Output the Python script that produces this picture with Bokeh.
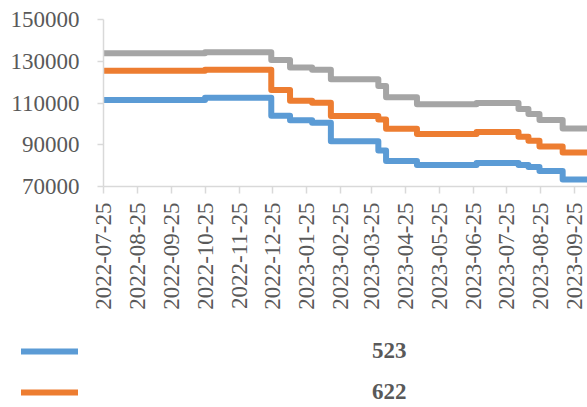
import math
from datetime import datetime, timedelta

import pandas as pd
from bokeh.plotting import figure
from bokeh.layouts import column
from bokeh.models import (FixedTicker, DatetimeTickFormatter, BasicTickFormatter,
                          Legend, LegendItem, Range1d)
from bokeh.embed import file_html
from bokeh.resources import INLINE

# ---------------- data ----------------
CHANGE_DATES = ["2022-07-25", "2022-10-25", "2022-12-24", "2023-01-10", "2023-01-30",
                "2023-02-16", "2023-03-31", "2023-04-07", "2023-05-05", "2023-06-28",
                "2023-08-05", "2023-08-14", "2023-08-24", "2023-09-14", "2023-10-08"]
S523 = [111450, 112550, 103900, 101750, 100550, 91650, 87300, 82250, 80350, 81300,
        80350, 79400, 77450, 73350, 73350]
S622 = [125400, 125900, 116250, 111100, 110150, 103750, 102050, 97650, 95100, 96100,
        93800, 91900, 89200, 86250, 86250]
S_GRAY = [133800, 134300, 130600, 127000, 125900, 121400, 118200, 112700, 109400, 110000,
          107100, 104700, 101800, 97800, 97800]
SERIES_NAMES = ["523", "622"]

X_TICK_LABELS = ["2022-07-25", "2022-08-25", "2022-09-25", "2022-10-25", "2022-11-25",
                 "2022-12-25", "2023-01-25", "2023-02-25", "2023-03-25", "2023-04-25",
                 "2023-05-25", "2023-06-25", "2023-07-25", "2023-08-25", "2023-09-25",
                 "2023-10-25"]
Y_TICKS = [70000, 90000, 110000, 130000, 150000]

# ---------------- styling ----------------
BLUE = "#5B9BD5"
ORANGE = "#ED7D31"
GRAY = "#A5A5A5"
AXIS_COLOR = "#D9D9D9"
TEXT_COLOR = "#595959"
FONT = "Liberation Serif"
LINE_KW = dict(mode="after", line_width=6, line_cap="round", line_join="round")

dates = pd.to_datetime(CHANGE_DATES)
x_start = datetime(2022, 7, 25)
x_end = x_start + timedelta(days=438.5)

# ---------------- main chart ----------------
p = figure(width=587, height=312, x_axis_type="datetime",
           output_backend="svg", toolbar_location=None,
           x_range=Range1d(x_start, x_end), y_range=Range1d(70000, 150000),
           min_border_left=103, min_border_right=0, min_border_top=19,
           min_border_bottom=126)
p.frame_align = False
p.outline_line_color = None
p.xgrid.visible = False
p.ygrid.visible = False

p.step(dates, S523, line_color=BLUE, **LINE_KW)
p.step(dates, S622, line_color=ORANGE, **LINE_KW)
p.step(dates, S_GRAY, line_color=GRAY, **LINE_KW)

yax = p.yaxis[0]
yax.ticker = FixedTicker(ticks=Y_TICKS)
yax.formatter = BasicTickFormatter(use_scientific=False)
yax.axis_line_color = AXIS_COLOR
yax.axis_line_width = 1.5
yax.major_tick_line_color = AXIS_COLOR
yax.major_tick_line_width = 1.5
yax.major_tick_out = 6
yax.major_tick_in = 0
yax.minor_tick_line_color = None
yax.major_label_standoff = 18
yax.major_label_text_font = FONT
yax.major_label_text_font_size = "23px"
yax.major_label_text_color = TEXT_COLOR

tick_ms = [pd.Timestamp(t).value // 10**6 for t in X_TICK_LABELS]
xax = p.xaxis[0]
xax.ticker = FixedTicker(ticks=tick_ms)
fmt = "%Y-%m-%d"
xax.formatter = DatetimeTickFormatter(microseconds=fmt, milliseconds=fmt, seconds=fmt,
                                      minsec=fmt, minutes=fmt, hourmin=fmt, hours=fmt,
                                      days=fmt, months=fmt, years=fmt)
xax.axis_line_color = AXIS_COLOR
xax.axis_line_width = 1.5
xax.major_tick_line_color = AXIS_COLOR
xax.major_tick_line_width = 1.5
xax.major_tick_out = 7
xax.major_tick_in = 0
xax.minor_tick_line_color = None
xax.major_label_orientation = math.pi / 2
xax.major_label_standoff = 9
xax.major_label_text_font = FONT
xax.major_label_text_font_size = "23px"
xax.major_label_text_color = TEXT_COLOR

# ---------------- legend area (below the chart) ----------------
lf = figure(width=587, height=95, output_backend="svg", toolbar_location=None,
            x_axis_location=None, y_axis_location=None,
            x_range=Range1d(x_start, x_end), y_range=Range1d(70000, 150000),
            min_border_left=0, min_border_right=0, min_border_top=0,
            min_border_bottom=0)
lf.frame_align = False
lf.outline_line_color = None
lf.xgrid.visible = False
lf.ygrid.visible = False
lr_blue = lf.step(dates, S523, line_color=BLUE, visible=False, **LINE_KW)
lr_orange = lf.step(dates, S622, line_color=ORANGE, visible=False, **LINE_KW)

legend = Legend(items=[LegendItem(label=SERIES_NAMES[0], renderers=[lr_blue]),
                       LegendItem(label=SERIES_NAMES[1], renderers=[lr_orange])],
                location=(21, 0))
legend.border_line_alpha = 0
legend.background_fill_alpha = 0
legend.padding = 0
legend.margin = 0
legend.spacing = 11
legend.glyph_width = 57
legend.glyph_height = 30
legend.label_height = 30
legend.label_standoff = 294
legend.label_text_font = FONT
legend.label_text_font_style = "bold"
legend.label_text_font_size = "23px"
legend.label_text_color = TEXT_COLOR
lf.add_layout(legend)

layout = column(p, lf, spacing=0)
open("out.html", "w").write(file_html(layout, INLINE))
